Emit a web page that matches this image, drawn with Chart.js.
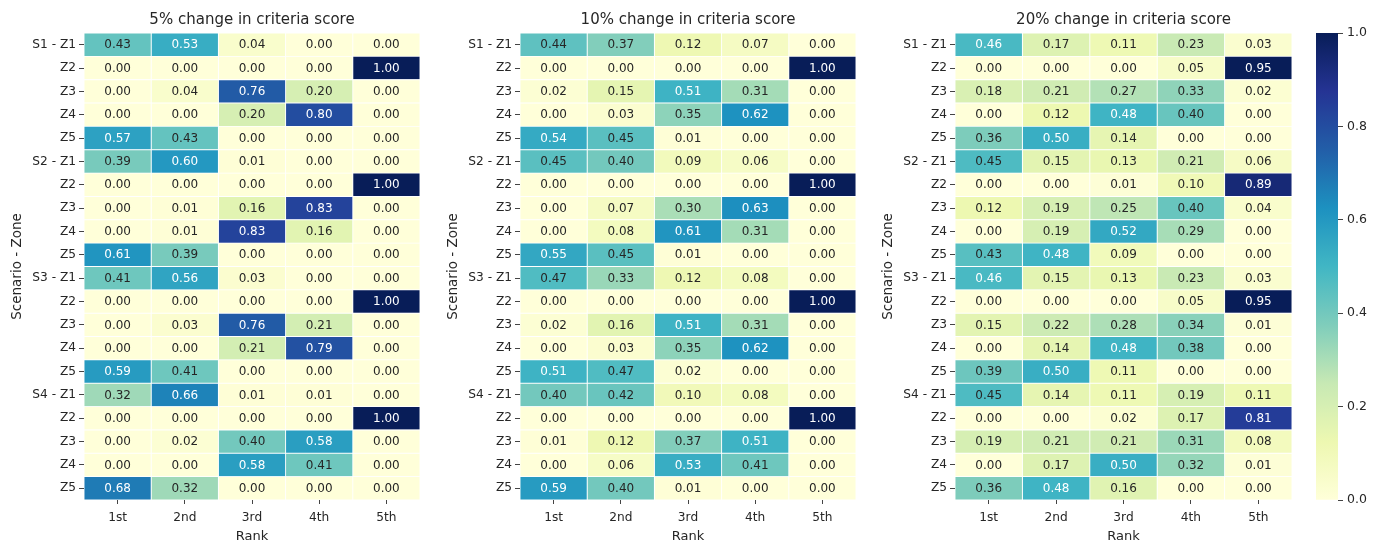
<!DOCTYPE html>
<html>
<head>
<meta charset="utf-8">
<script src="https://cdn.jsdelivr.net/npm/chart.js@4.4.0/dist/chart.umd.min.js"></script>
<style>
html,body{margin:0;padding:0;background:#ffffff;}
#wrap{position:relative;width:1384px;height:544px;overflow:hidden;}
#wrap canvas{position:absolute;top:0;}
</style>
</head>
<body>
<div id="wrap">
  <canvas id="p1" width="430" height="544" style="left:0px"></canvas>
  <canvas id="p2" width="430" height="544" style="left:436px"></canvas>
  <canvas id="p3" width="431" height="544" style="left:871px"></canvas>
  <canvas id="cb" width="84" height="544" style="left:1300px"></canvas>
</div>
<script>
// ---------- data ----------
const rowLabels = ["S1 - Z1","Z2","Z3","Z4","Z5","S2 - Z1","Z2","Z3","Z4","Z5",
                   "S3 - Z1","Z2","Z3","Z4","Z5","S4 - Z1","Z2","Z3","Z4","Z5"];
const rankLabels = ["1st","2nd","3rd","4th","5th"];
const panelTitles = ["5% change in criteria score","10% change in criteria score","20% change in criteria score"];
const colorbarTicks = [0.0,0.2,0.4,0.6,0.8,1.0];

const values5 = [
  [0.43,0.53,0.04,0.00,0.00],
  [0.00,0.00,0.00,0.00,1.00],
  [0.00,0.04,0.76,0.20,0.00],
  [0.00,0.00,0.20,0.80,0.00],
  [0.57,0.43,0.00,0.00,0.00],
  [0.39,0.60,0.01,0.00,0.00],
  [0.00,0.00,0.00,0.00,1.00],
  [0.00,0.01,0.16,0.83,0.00],
  [0.00,0.01,0.83,0.16,0.00],
  [0.61,0.39,0.00,0.00,0.00],
  [0.41,0.56,0.03,0.00,0.00],
  [0.00,0.00,0.00,0.00,1.00],
  [0.00,0.03,0.76,0.21,0.00],
  [0.00,0.00,0.21,0.79,0.00],
  [0.59,0.41,0.00,0.00,0.00],
  [0.32,0.66,0.01,0.01,0.00],
  [0.00,0.00,0.00,0.00,1.00],
  [0.00,0.02,0.40,0.58,0.00],
  [0.00,0.00,0.58,0.41,0.00],
  [0.68,0.32,0.00,0.00,0.00]
];
const values10 = [
  [0.44,0.37,0.12,0.07,0.00],
  [0.00,0.00,0.00,0.00,1.00],
  [0.02,0.15,0.51,0.31,0.00],
  [0.00,0.03,0.35,0.62,0.00],
  [0.54,0.45,0.01,0.00,0.00],
  [0.45,0.40,0.09,0.06,0.00],
  [0.00,0.00,0.00,0.00,1.00],
  [0.00,0.07,0.30,0.63,0.00],
  [0.00,0.08,0.61,0.31,0.00],
  [0.55,0.45,0.01,0.00,0.00],
  [0.47,0.33,0.12,0.08,0.00],
  [0.00,0.00,0.00,0.00,1.00],
  [0.02,0.16,0.51,0.31,0.00],
  [0.00,0.03,0.35,0.62,0.00],
  [0.51,0.47,0.02,0.00,0.00],
  [0.40,0.42,0.10,0.08,0.00],
  [0.00,0.00,0.00,0.00,1.00],
  [0.01,0.12,0.37,0.51,0.00],
  [0.00,0.06,0.53,0.41,0.00],
  [0.59,0.40,0.01,0.00,0.00]
];
const values20 = [
  [0.46,0.17,0.11,0.23,0.03],
  [0.00,0.00,0.00,0.05,0.95],
  [0.18,0.21,0.27,0.33,0.02],
  [0.00,0.12,0.48,0.40,0.00],
  [0.36,0.50,0.14,0.00,0.00],
  [0.45,0.15,0.13,0.21,0.06],
  [0.00,0.00,0.01,0.10,0.89],
  [0.12,0.19,0.25,0.40,0.04],
  [0.00,0.19,0.52,0.29,0.00],
  [0.43,0.48,0.09,0.00,0.00],
  [0.46,0.15,0.13,0.23,0.03],
  [0.00,0.00,0.00,0.05,0.95],
  [0.15,0.22,0.28,0.34,0.01],
  [0.00,0.14,0.48,0.38,0.00],
  [0.39,0.50,0.11,0.00,0.00],
  [0.45,0.14,0.11,0.19,0.11],
  [0.00,0.00,0.02,0.17,0.81],
  [0.19,0.21,0.21,0.31,0.08],
  [0.00,0.17,0.50,0.32,0.01],
  [0.36,0.48,0.16,0.00,0.00]
];

// ---------- colormap (YlGnBu) ----------
const ylgnbu = [
  [255,255,217],[237,248,177],[199,233,180],[127,205,187],[65,182,196],
  [29,145,192],[34,94,168],[37,52,148],[8,29,88]
];
function cmapRGB(t){
  t = Math.max(0, Math.min(1, t));
  const pos = t * (ylgnbu.length - 1);
  const i = Math.min(Math.floor(pos), ylgnbu.length - 2);
  const f = pos - i;
  const a = ylgnbu[i], b = ylgnbu[i+1];
  return [0,1,2].map(k => a[k] + (b[k]-a[k]) * f);
}
function cmapCSS(t){
  const c = cmapRGB(t);
  return 'rgb(' + c.map(v => Math.round(v)).join(',') + ')';
}
function textColor(t){
  const lin = cmapRGB(t).map(v => { v /= 255; return v <= 0.03928 ? v/12.92 : Math.pow((v+0.055)/1.055, 2.4); });
  const lum = 0.2126*lin[0] + 0.7152*lin[1] + 0.0722*lin[2];
  return lum > 0.408 ? '#262626' : '#ffffff';
}

Chart.defaults.font.family = '"DejaVu Sans", sans-serif';
Chart.defaults.color = '#262626';
Chart.defaults.animation = false;

const cellLabels = {
  id: 'cellLabels',
  afterDatasetsDraw(chart){
    const ctx = chart.ctx;
    const vmax = chart.options.plugins.cellLabels.vmax;
    ctx.save();
    ctx.font = '12px "DejaVu Sans", sans-serif';
    ctx.textAlign = 'center';
    ctx.textBaseline = 'middle';
    chart.data.datasets.forEach((ds, j) => {
      const meta = chart.getDatasetMeta(j);
      meta.data.forEach((el, i) => {
        const v = ds.cellValues[i];
        const p = el.getCenterPoint();
        ctx.fillStyle = textColor(v / vmax);
        ctx.fillText(v.toFixed(2), p.x, p.y + 0.5);
      });
    });
    ctx.restore();
  }
};

function makePanel(canvasId, title, values){
  const vmax = Math.max(...values.flat());
  const datasets = rankLabels.map((rk, j) => ({
    label: rk,
    data: rowLabels.map(() => [j, j + 1]),
    cellValues: values.map(row => row[j]),
    backgroundColor: values.map(row => cmapCSS(row[j] / vmax)),
    borderColor: '#ffffff',
    borderWidth: 0.8,
    borderSkipped: false,
    grouped: false,
    barPercentage: 1,
    categoryPercentage: 1
  }));
  new Chart(document.getElementById(canvasId), {
    type: 'bar',
    data: { labels: rowLabels, datasets },
    options: {
      responsive: false,
      indexAxis: 'y',
      layout: { padding: { left: 0, right: 10, top: 0, bottom: 0 } },
      plugins: {
        legend: { display: false },
        tooltip: { enabled: false },
        title: {
          display: true, text: title, color: '#262626', fullSize: false,
          font: { size: 15, weight: 'normal', lineHeight: 1.2 },
          padding: { top: 11, bottom: 4 }
        },
        cellLabels: { vmax }
      },
      scales: {
        x: {
          type: 'linear', min: 0, max: rankLabels.length,
          afterBuildTicks: (scale) => { scale.ticks = rankLabels.map((_, j) => ({ value: j + 0.5 })); },
          afterFit: (scale) => { scale.height = 44; },
          ticks: {
            autoSkip: false, maxRotation: 0, padding: 7,
            font: { size: 12.2 }, color: '#262626',
            callback: (v) => rankLabels[Math.round(v - 0.5)]
          },
          grid: { drawOnChartArea: false, drawTicks: true, tickLength: 4, color: '#444444', lineWidth: 1 },
          border: { display: false },
          title: { display: true, text: 'Rank', color: '#262626', font: { size: 13 }, padding: { top: 0, bottom: 0 } }
        },
        y: {
          type: 'category',
          afterFit: (scale) => { scale.width = 84; },
          ticks: { autoSkip: false, padding: 3, font: { size: 12.2 }, color: '#262626' },
          grid: { offset: false, drawOnChartArea: false, drawTicks: true, tickLength: 5, color: '#444444', lineWidth: 1 },
          border: { display: false },
          title: { display: true, text: 'Scenario - Zone', color: '#262626', font: { size: 13.5 }, padding: { top: 9, bottom: 0 } }
        }
      }
    },
    plugins: [cellLabels]
  });
}

makePanel('p1', panelTitles[0], values5);
makePanel('p2', panelTitles[1], values10);
makePanel('p3', panelTitles[2], values20);

// ---------- colorbar ----------
const cbMin = colorbarTicks[0], cbMax = colorbarTicks[colorbarTicks.length - 1];
new Chart(document.getElementById('cb'), {
  type: 'bar',
  data: {
    labels: [''],
    datasets: [{
      data: [[cbMin, cbMax]],
      backgroundColor: (c) => {
        const area = c.chart.chartArea;
        if (!area) return '#ffffff';
        const g = c.chart.ctx.createLinearGradient(0, area.bottom, 0, area.top);
        for (let k = 0; k <= 40; k++) g.addColorStop(k / 40, cmapCSS(k / 40));
        return g;
      },
      borderWidth: 0,
      barPercentage: 1,
      categoryPercentage: 1
    }]
  },
  options: {
    responsive: false,
    layout: { padding: { left: 16, right: 0, top: 33, bottom: 44 } },
    plugins: { legend: { display: false }, tooltip: { enabled: false } },
    scales: {
      x: { display: false },
      y: {
        position: 'right', min: cbMin, max: cbMax,
        afterBuildTicks: (scale) => { scale.ticks = colorbarTicks.map(v => ({ value: v })); },
        afterFit: (scale) => { scale.width = 46; },
        ticks: { padding: 4, font: { size: 12.5 }, color: '#262626', callback: (v) => v.toFixed(1) },
        grid: { drawOnChartArea: false, drawTicks: true, tickLength: 5, color: '#444444', lineWidth: 1 },
        border: { display: false }
      }
    }
  }
});
</script>
</body>
</html>
